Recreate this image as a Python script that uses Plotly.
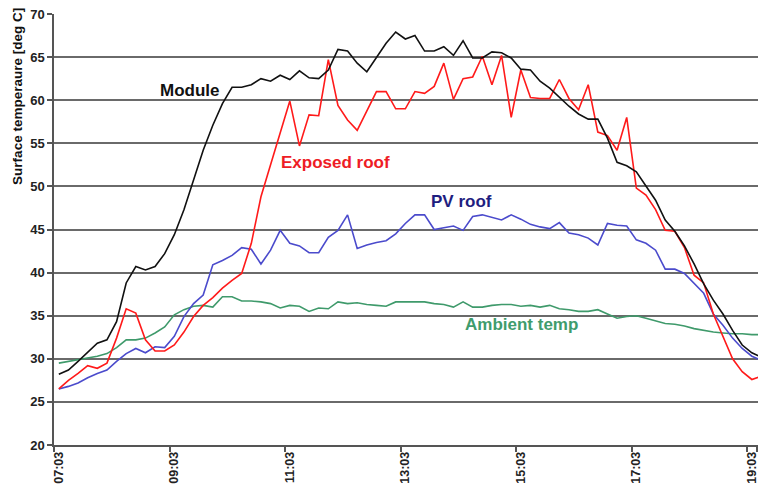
import plotly.graph_objects as go

times = ["07:03", "07:13", "07:23", "07:33", "07:43", "07:53",
         "08:03", "08:13", "08:23", "08:33", "08:43", "08:53",
         "09:03", "09:13", "09:23", "09:33", "09:43", "09:53",
         "10:03", "10:13", "10:23", "10:33", "10:43", "10:53",
         "11:03", "11:13", "11:23", "11:33", "11:43", "11:53",
         "12:03", "12:13", "12:23", "12:33", "12:43", "12:53",
         "13:03", "13:13", "13:23", "13:33", "13:43", "13:53",
         "14:03", "14:13", "14:23", "14:33", "14:43", "14:53",
         "15:03", "15:13", "15:23", "15:33", "15:43", "15:53",
         "16:03", "16:13", "16:23", "16:33", "16:43", "16:53",
         "17:03", "17:13", "17:23", "17:33", "17:43", "17:53",
         "18:03", "18:13", "18:23", "18:33", "18:43", "18:53",
         "19:03", "19:13"]

tick_labels = ["07:03", "09:03", "11:03", "13:03", "15:03", "17:03", "19:03"]

module = [28.2, 28.7, 29.7, 30.8, 31.8, 32.2, 34.3, 38.8, 40.7, 40.3,
          40.7, 42.2, 44.4, 47.3, 50.7, 54.2, 57.1, 59.6, 61.5, 61.5,
          61.8, 62.5, 62.2, 62.9, 62.4, 63.4, 62.6, 62.5, 63.5, 65.9,
          65.7, 64.3, 63.3, 64.9, 66.6, 67.9, 67.1, 67.5, 65.7, 65.7,
          66.2, 65.2, 66.9, 64.9, 64.9, 65.6, 65.5, 64.9, 63.6, 63.5,
          62.2, 61.4, 60.3, 59.3, 58.4, 57.8, 57.8, 55.6, 52.8, 52.4,
          51.7, 50.0, 48.4, 46.1, 44.8, 43.1, 41.0, 38.7, 36.8, 35.2,
          33.3, 31.6, 30.7, 30.2]

exposed_roof = [26.5, 27.5, 28.3, 29.2, 28.9, 29.5, 32.4, 35.8, 35.3, 32.2,
                30.9, 30.9, 31.6, 33.1, 34.9, 36.2, 37.1, 38.2, 39.1, 39.9,
                43.4, 48.8, 52.5, 56.2, 59.9, 54.7, 58.3, 58.2, 64.7, 59.4,
                57.7, 56.5, 58.7, 61.0, 61.0, 59.0, 59.0, 61.0, 60.8, 61.6,
                64.3, 60.1, 62.5, 62.7, 65.1, 61.8, 65.2, 58.0, 63.5, 60.3,
                60.2, 60.2, 62.4, 60.2, 58.9, 61.8, 56.3, 55.9, 54.2, 58.0,
                49.8, 49.0, 47.3, 44.9, 44.8, 42.9, 39.7, 38.8, 35.2, 32.7,
                30.0, 28.5, 27.6, 28.0]

pv_roof = [26.5, 26.8, 27.2, 27.8, 28.3, 28.7, 29.7, 30.6, 31.2, 30.7,
           31.4, 31.3, 32.6, 34.9, 36.4, 37.4, 40.9, 41.4, 42.0, 42.9,
           42.7, 41.0, 42.6, 44.9, 43.4, 43.1, 42.3, 42.3, 44.1, 44.9,
           46.7, 42.8, 43.2, 43.5, 43.7, 44.5, 45.7, 46.7, 46.7, 45.0,
           45.2, 45.4, 44.9, 46.5, 46.7, 46.4, 46.1, 46.7, 46.2, 45.6,
           45.3, 45.1, 45.8, 44.6, 44.4, 44.0, 43.2, 45.7, 45.5, 45.4,
           43.8, 43.4, 42.6, 40.4, 40.4, 39.9, 38.8, 37.6, 35.2, 33.9,
           32.4, 31.2, 30.3, 29.8]

ambient = [29.5, 29.7, 29.9, 30.1, 30.3, 30.6, 31.3, 32.2, 32.2, 32.4,
           33.0, 33.7, 35.1, 35.7, 36.1, 36.2, 36.0, 37.2, 37.2, 36.7,
           36.7, 36.6, 36.4, 35.9, 36.2, 36.1, 35.5, 35.9, 35.8, 36.6,
           36.4, 36.5, 36.3, 36.2, 36.1, 36.6, 36.6, 36.6, 36.6, 36.4,
           36.3, 36.0, 36.6, 36.0, 36.0, 36.2, 36.3, 36.3, 36.1, 36.2,
           36.0, 36.2, 35.8, 35.7, 35.5, 35.5, 35.7, 35.2, 34.7, 34.9,
           35.0, 34.7, 34.4, 34.1, 34.0, 33.8, 33.5, 33.3, 33.1, 33.0,
           32.9, 32.9, 32.8, 32.8]

FONT = "Liberation Sans, Arial, sans-serif"

fig = go.Figure()
series = [
    ("Ambient temp", ambient, "#3f9a6b"),
    ("PV roof", pv_roof, "#4b4bcc"),
    ("Exposed roof", exposed_roof, "#ff1a1a"),
    ("Module", module, "#111111"),
]
for name, vals, col in series:
    fig.add_trace(go.Scatter(x=times, y=vals, mode="lines", name=name,
                             line=dict(color=col, width=1.6)))

labels = [
    ("Module", 13.6, 61.1, "#111111"),
    ("Exposed roof", 28.7, 52.8, "#ee1c25"),
    ("PV roof", 41.8, 48.3, "#1e1e80"),
    ("Ambient temp", 48.1, 34.0, "#3f9c6c"),
]
for txt, xi, yv, col in labels:
    fig.add_annotation(x=xi, y=yv, xref="x", yref="y", text=txt, showarrow=False,
                       xanchor="center", yanchor="middle",
                       font=dict(family=FONT, size=17, color=col, weight="bold"))

fig.add_annotation(x=0, y=0.8077, xref="paper", yref="paper", xshift=-36,
                   text="Surface temperaure [deg C]", textangle=-90, showarrow=False,
                   xanchor="center", yanchor="middle",
                   font=dict(family=FONT, size=13.5, color="#111111", weight="bold"))

fig.update_layout(
    width=758, height=493,
    margin=dict(l=54, r=0, t=14, b=47.5, autoexpand=False),
    paper_bgcolor="white", plot_bgcolor="white",
    showlegend=False,
    font=dict(family=FONT, color="#222222"),
)
fig.update_xaxes(
    type="category", range=[-0.5, 72.64], automargin=False,
    tickvals=tick_labels, tickangle=-90, tickson="boundaries",
    ticks="outside", ticklen=5, tickcolor="#555555", tickwidth=1.5,
    showline=True, linecolor="#555555", linewidth=1.5,
    showgrid=False, zeroline=False,
    tickfont=dict(family=FONT, size=12.5, color="#222222", weight="bold"),
)
fig.update_yaxes(
    range=[20, 70], tick0=20, dtick=5, automargin=False,
    ticks="outside", ticklen=5, tickcolor="#555555", tickwidth=1.5,
    showline=True, linecolor="#555555", linewidth=1.5,
    showgrid=True, gridcolor="#6a6a6a", gridwidth=1.8, zeroline=False,
    tickfont=dict(family=FONT, size=13, color="#222222", weight="bold"),
)

fig.write_html(
    "out.html",
    config={"displayModeBar": False},
    post_script="document.body.style.margin='0';document.body.style.padding='0';"
                "document.body.style.overflow='hidden';",
)
